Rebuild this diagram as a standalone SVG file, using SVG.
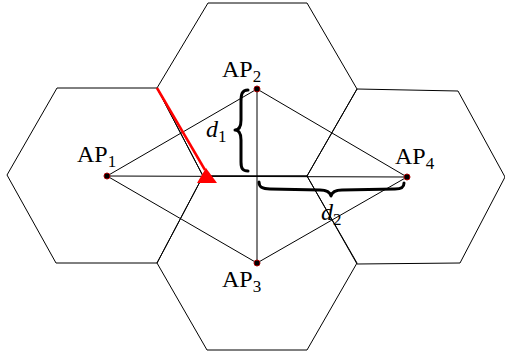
<svg xmlns="http://www.w3.org/2000/svg" width="505" height="355" viewBox="0 0 505 355">
<style>
.hex{fill:none;stroke:#000;stroke-width:1}
.ln{stroke:#000;stroke-width:1;fill:none}
.dot{fill:#000;stroke:#a00;stroke-width:1}
.t{font-family:'Liberation Serif','Times New Roman',serif;font-size:24px;fill:#000}
.sub{font-size:17px}
.brace{fill:none;stroke:#000;stroke-width:3;stroke-linecap:round;stroke-linejoin:round}
</style>
<rect width="505" height="355" fill="#fff"/>
<g id="cells">
<polygon id="cell1" class="hex" points="7,175 57,88 157,88 203,176 157,263 56,263"/>
<polygon id="cell2" class="hex" points="157,88 208,3 307,3 357,89 307,176 203,176"/>
<polygon id="cell3" class="hex" points="157,263 203,176 307,176 357,263 307,350 207,350"/>
<polygon id="cell4" class="hex" points="307,176 357,89 458,91 505,177 460,263 357,264"/>
</g>
<g id="connectors">
<line class="ln" x1="107" y1="176" x2="257" y2="89"/>
<line class="ln" x1="107" y1="176" x2="257" y2="263"/>
<line class="ln" x1="107" y1="176" x2="407" y2="177"/>
<line class="ln" x1="257" y1="89" x2="407" y2="177"/>
<line class="ln" x1="257" y1="263" x2="407" y2="177"/>
<line class="ln" x1="257" y1="89" x2="257" y2="263"/>
</g>
<g id="arrow">
<line x1="157" y1="88" x2="205" y2="170" stroke="#f00" stroke-width="2.5"/>
<polygon points="206,168 197,183 217,183" fill="#f00"/>
</g>
<g id="AP1"><circle class="dot" cx="107" cy="176" r="3"/><text class="t" x="77" y="162">AP<tspan class="sub" dy="5">1</tspan></text></g>
<g id="AP2"><circle class="dot" cx="257" cy="89" r="3"/><text class="t" x="222" y="77">AP<tspan class="sub" dy="5">2</tspan></text></g>
<g id="AP3"><circle class="dot" cx="257" cy="263" r="3"/><text class="t" x="222" y="287">AP<tspan class="sub" dy="5">3</tspan></text></g>
<g id="AP4"><circle class="dot" cx="407" cy="177" r="3"/><text class="t" x="395" y="164">AP<tspan class="sub" dy="5">4</tspan></text></g>
<g id="d1">
<path class="brace" d="M248 90 C242 90 241 94 241 102 L241 120 C241 127 239 130 235 130 C239 130 241 133 241 140 L241 162 C241 169 243 171 248 171"/>
<text class="t" x="206" y="137" font-style="italic">d<tspan class="sub" font-style="normal" dy="5">1</tspan></text>
</g>
<g id="d2">
<path class="brace" d="M259 182 C259 187 262 189 270 189 L320 190 C327 190 330 192 331 196 C332 192 335 190 342 190 L395 189 C402 189 404 187 404 183"/>
<text class="t" x="321" y="220" font-style="italic">d<tspan class="sub" font-style="normal" dy="5">2</tspan></text>
</g>
</svg>
